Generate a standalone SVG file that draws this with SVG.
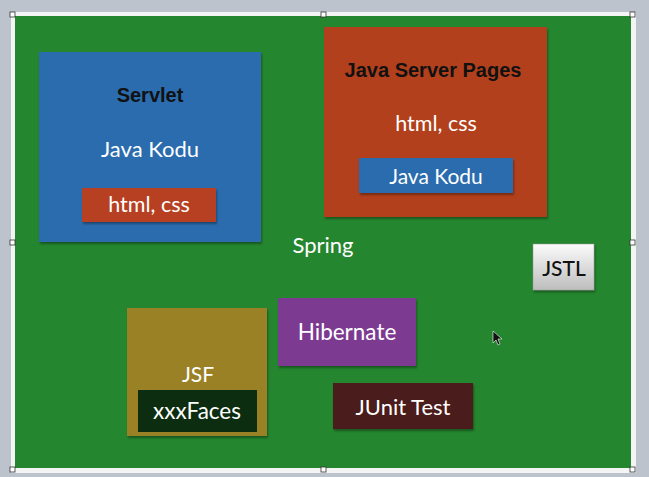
<svg xmlns="http://www.w3.org/2000/svg" width="649" height="477" viewBox="0 0 649 477">
<defs>
<linearGradient id="jstlGrad" x1="0" y1="0" x2="0" y2="1">
<stop offset="0" stop-color="#fbfbfb"/>
<stop offset="1" stop-color="#bdbdbd"/>
</linearGradient>
<filter id="sh" x="-5%" y="-5%" width="112%" height="115%">
<feDropShadow dx="1" dy="2" stdDeviation="1" flood-color="#000" flood-opacity="0.35"/>
</filter>
</defs>
<style>
.gs{font-family:Lato,"Open Sans","DejaVu Sans",sans-serif;fill:#ffffff;text-anchor:middle;dominant-baseline:central}
.hd{font-family:"Liberation Sans",Arial,sans-serif;font-weight:bold;fill:#111111;text-anchor:middle;dominant-baseline:central;font-size:20px}
.h{fill:#ffffff;stroke:#333333;stroke-width:0.8}
</style>
<rect x="0" y="0" width="649" height="477" fill="#bcc3cc"/>
<rect x="11" y="12" width="625" height="461" fill="#f4f4f4"/>
<rect x="15" y="16" width="616" height="452" fill="#24862f"/>
<g id="handles">
<rect class="h" x="10" y="12" width="5" height="5"/>
<rect class="h" x="321" y="12" width="5" height="5"/>
<rect class="h" x="630" y="12" width="5" height="5"/>
<rect class="h" x="10" y="240" width="5" height="5"/>
<rect class="h" x="630" y="240" width="5" height="5"/>
<rect class="h" x="10" y="467" width="5" height="5"/>
<rect class="h" x="321" y="467" width="5" height="5"/>
<rect class="h" x="630" y="467" width="5" height="5"/>
</g>
<g id="connectors"/>
<g id="servlet">
<rect x="39" y="52" width="222" height="190" fill="#2b6cae" filter="url(#sh)"/>
<text class="hd" x="150" y="95">Servlet</text>
<text class="gs" x="150" y="148" font-size="22">Java Kodu</text>
<g id="servlet-html">
<rect x="82" y="188" width="134" height="34" fill="#b84124" filter="url(#sh)"/>
<text class="gs" x="149" y="204" font-size="21.5">html, css</text>
</g>
</g>
<g id="jsp">
<rect x="324" y="27" width="223" height="190" fill="#b2411f" filter="url(#sh)"/>
<text class="hd" x="433" y="70">Java Server Pages</text>
<text class="gs" x="436" y="123" font-size="21.5">html, css</text>
<g id="jsp-java">
<rect x="359" y="158" width="154" height="35" fill="#2b6cae" filter="url(#sh)"/>
<text class="gs" x="436" y="175" font-size="21">Java Kodu</text>
</g>
</g>
<g id="spring">
<text class="gs" x="323" y="244" font-size="22">Spring</text>
</g>
<g id="jstl">
<rect x="533" y="244" width="61" height="46" fill="url(#jstlGrad)" stroke="#999999" stroke-width="0.5" filter="url(#sh)"/>
<text class="gs" x="564" y="267" font-size="21" style="fill:#111111;font-weight:500">JSTL</text>
</g>
<g id="jsf">
<rect x="127" y="308" width="140" height="128" fill="#9b8128" filter="url(#sh)"/>
<text class="gs" x="198" y="373" font-size="21">JSF</text>
<g id="xxxfaces">
<rect x="138" y="390" width="119" height="42" fill="#0c2d10"/>
<text class="gs" x="197" y="410" font-size="22.5">xxxFaces</text>
</g>
</g>
<g id="hibernate">
<rect x="278" y="298" width="138" height="68" fill="#7b3b91" filter="url(#sh)"/>
<text class="gs" x="347" y="331" font-size="22.5">Hibernate</text>
</g>
<g id="junit">
<rect x="333" y="383" width="140" height="46" fill="#4b1f1b" filter="url(#sh)"/>
<text class="gs" x="403" y="406" font-size="22">JUnit Test</text>
</g>
<g id="cursor">
<path d="M493,331 L493,343 L496,340 L498,345 L500,344 L498,339 L502,339 Z" fill="#111111" stroke="#ffffff" stroke-width="0.6"/>
</g>
</svg>
